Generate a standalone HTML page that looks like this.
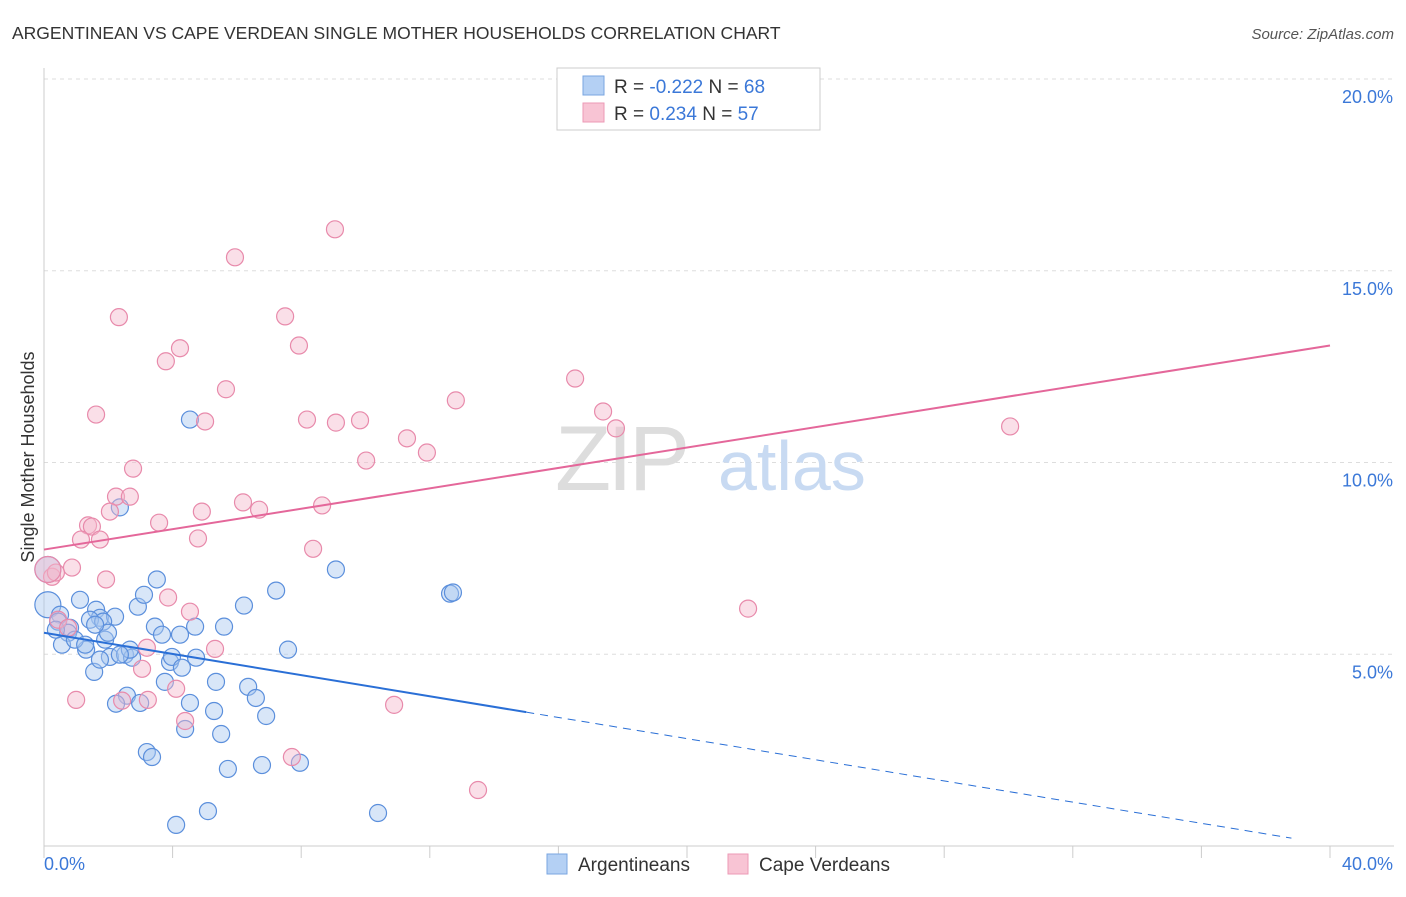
<!DOCTYPE html>
<html><head><meta charset="utf-8"><style>
body{margin:0;background:#fff;font-family:"Liberation Sans",sans-serif;}
svg text{font-family:"Liberation Sans",sans-serif;}
</style></head><body>
<svg id="chart" width="1406" height="892">
<text x="12" y="39" font-size="17.5" fill="#333">ARGENTINEAN VS CAPE VERDEAN SINGLE MOTHER HOUSEHOLDS CORRELATION CHART</text>
<text x="1394" y="39" font-size="15" fill="#555" font-style="italic" text-anchor="end">Source: ZipAtlas.com</text>
<g id="grid"></g>
<g>
<text x="555" y="490" font-size="92" fill="#ddd" font-family="Liberation Serif" letter-spacing="-4">ZIP</text>
<text x="718" y="490" font-size="70" fill="#c8daf2">atlas</text>
</g>
<text transform="translate(34,457) rotate(-90)" font-size="18" fill="#333" text-anchor="middle">Single Mother Households</text>
<g id="marks"></g>
<g>
<rect x="557" y="68" width="263" height="62" fill="#fff" stroke="#ccc"/>
<rect x="583" y="76" width="21" height="19" fill="#b4d0f4" stroke="#7aa6e0"/>
<rect x="583" y="103" width="21" height="19" fill="#f8c4d4" stroke="#ec9ab6"/>
<text x="614" y="93" font-size="19" fill="#333">R = <tspan fill="#3b78d8">-0.222</tspan>   N = <tspan fill="#3b78d8">68</tspan></text>
<text x="614" y="120" font-size="19" fill="#333">R =  <tspan fill="#3b78d8">0.234</tspan>   N = <tspan fill="#3b78d8">57</tspan></text>
</g>
<g>
<rect x="547" y="854" width="20" height="20" fill="#b4d0f4" stroke="#7aa6e0"/>
<text x="578" y="871" font-size="19" fill="#333">Argentineans</text>
<rect x="728" y="854" width="20" height="20" fill="#f8c4d4" stroke="#ec9ab6"/>
<text x="759" y="871" font-size="19" fill="#333">Cape Verdeans</text>
</g>
</svg>
<script>
const yTicks=[5,10,15,20];
const yTickLabels=["5.0%","10.0%","15.0%","20.0%"];
const xTickLabels=["0.0%","40.0%"];
const blueX=[4.54,2.36,9.08,3.51,7.22,12.63,12.72,6.22,2.92,1.12,0.12,0.50,1.62,1.74,2.21,0.44,0.81,1.43,1.84,0.75,1.90,1.99,3.45,3.67,4.23,4.70,5.60,7.59,0.56,1.31,2.05,2.52,2.74,3.92,3.98,4.29,4.73,1.56,3.76,5.35,6.35,2.58,2.99,6.59,2.24,4.54,5.29,6.91,4.39,5.51,3.20,3.36,5.72,6.78,7.96,10.39,5.10,4.11,0.12,3.11,1.74,0.96,1.28,2.67,0.37,2.36,1.59];
const blueY=[11.12,8.83,7.21,6.95,6.66,6.58,6.61,6.27,6.24,6.42,6.29,6.03,6.16,5.95,5.98,5.85,5.69,5.90,5.85,5.56,5.38,5.56,5.72,5.51,5.51,5.72,5.72,5.12,5.25,5.12,4.93,4.99,4.91,4.80,4.93,4.65,4.91,4.54,4.28,4.28,4.15,3.92,3.73,3.86,3.71,3.73,3.52,3.39,3.05,2.92,2.45,2.32,2.01,2.11,2.17,0.86,0.91,0.55,7.21,6.55,4.86,5.38,5.25,5.12,5.64,4.99,5.77];
const pinkX=[9.05,5.94,2.33,7.50,4.23,3.79,7.93,5.66,1.62,5.01,8.18,9.08,9.83,12.81,16.52,17.39,17.79,11.29,11.91,10.02,30.05,2.77,2.24,2.67,6.19,4.91,6.69,2.05,8.65,3.58,1.37,1.49,1.15,1.74,4.79,8.37,1.93,0.87,0.25,0.37,0.12,3.86,4.54,0.44,0.75,3.20,5.32,3.05,4.11,1.00,2.43,3.23,4.39,10.89,7.71,13.50,21.90];
const pinkY=[16.08,15.35,13.79,13.81,12.98,12.64,13.05,11.91,11.25,11.07,11.12,11.04,11.10,11.62,12.19,11.33,10.89,10.63,10.26,10.05,10.94,9.84,9.11,9.11,8.96,8.72,8.77,8.72,8.88,8.43,8.36,8.33,7.99,7.99,8.02,7.75,6.95,7.26,7.02,7.13,7.21,6.48,6.11,5.90,5.69,5.17,5.14,4.62,4.10,3.81,3.79,3.81,3.26,3.68,2.32,1.46,6.19];
const blueTrend=[5.56,-0.138];
const pinkTrend=[7.73,0.133];
const X0=44,X1=1330,Y0=846,Y20=79;
const sx=v=>X0+(X1-X0)*v/40;
const sy=v=>Y0-(Y0-Y20)*v/20;
const NS="http://www.w3.org/2000/svg";
function mk(tag,attrs,parent){const e=document.createElementNS(NS,tag);for(const k in attrs)e.setAttribute(k,attrs[k]);parent.appendChild(e);return e;}
const grid=document.getElementById('grid'),marks=document.getElementById('marks');
yTicks.forEach((t,i)=>{
 const l=mk('line',{x1:X0,x2:1394,y1:sy(t),y2:sy(t),stroke:'#ddd','stroke-dasharray':'4,4'},grid);
 
 
 const tx=mk('text',{x:1393,y:sy(t)+24,'font-size':18,fill:'#3b78d8','text-anchor':'end'},grid);
 tx.textContent=yTickLabels[i];
 
 
});
const ya=mk('line',{x1:X0,x2:X0,y1:68,y2:Y0,stroke:'#ccc'},grid);


const xa=mk('line',{x1:X0,x2:1394,y1:Y0,y2:Y0,stroke:'#ccc'},grid);


for(let i=0;i<=10;i++){
 const t=mk('line',{x1:sx(i*4),x2:sx(i*4),y1:Y0,y2:Y0+12,stroke:'#ccc'},grid);
 
 
}
[[0,'start',44],[40,'end',1393]].forEach((a,i)=>{
 const tx=mk('text',{x:a[2],y:870,'font-size':18,fill:'#3b78d8','text-anchor':a[1]},grid);
 tx.textContent=xTickLabels[i];
 
 
});
function pts(xs,ys,fill,stroke,name){
 xs.forEach((x,i)=>{
  const big=(x<0.2);
  const c=mk('circle',{cx:sx(x),cy:sy(ys[i]),r:big?13:8.5,fill:fill,'fill-opacity':0.45,stroke:stroke,'stroke-width':1.2},marks);
  
  
 });
}
pts(blueX,blueY,'#a8c8f0','#5b8fdc','argentinean-point');
pts(pinkX,pinkY,'#f5b8cc','#e88aab','cape-verdean-point');
const f=(t,x)=>t[0]+t[1]*x;
const bl=mk('line',{x1:sx(0),y1:sy(f(blueTrend,0)),x2:sx(15),y2:sy(f(blueTrend,15)),stroke:'#2a6fd6','stroke-width':2},marks);


const bd=mk('line',{x1:sx(15),y1:sy(f(blueTrend,15)),x2:sx(38.8),y2:sy(f(blueTrend,38.8)),stroke:'#2a6fd6','stroke-width':1,'stroke-dasharray':'8,6'},marks);


const pl=mk('line',{x1:sx(0),y1:sy(f(pinkTrend,0)),x2:sx(40),y2:sy(f(pinkTrend,40)),stroke:'#e4679a','stroke-width':2},marks);


</script>
</body></html>
